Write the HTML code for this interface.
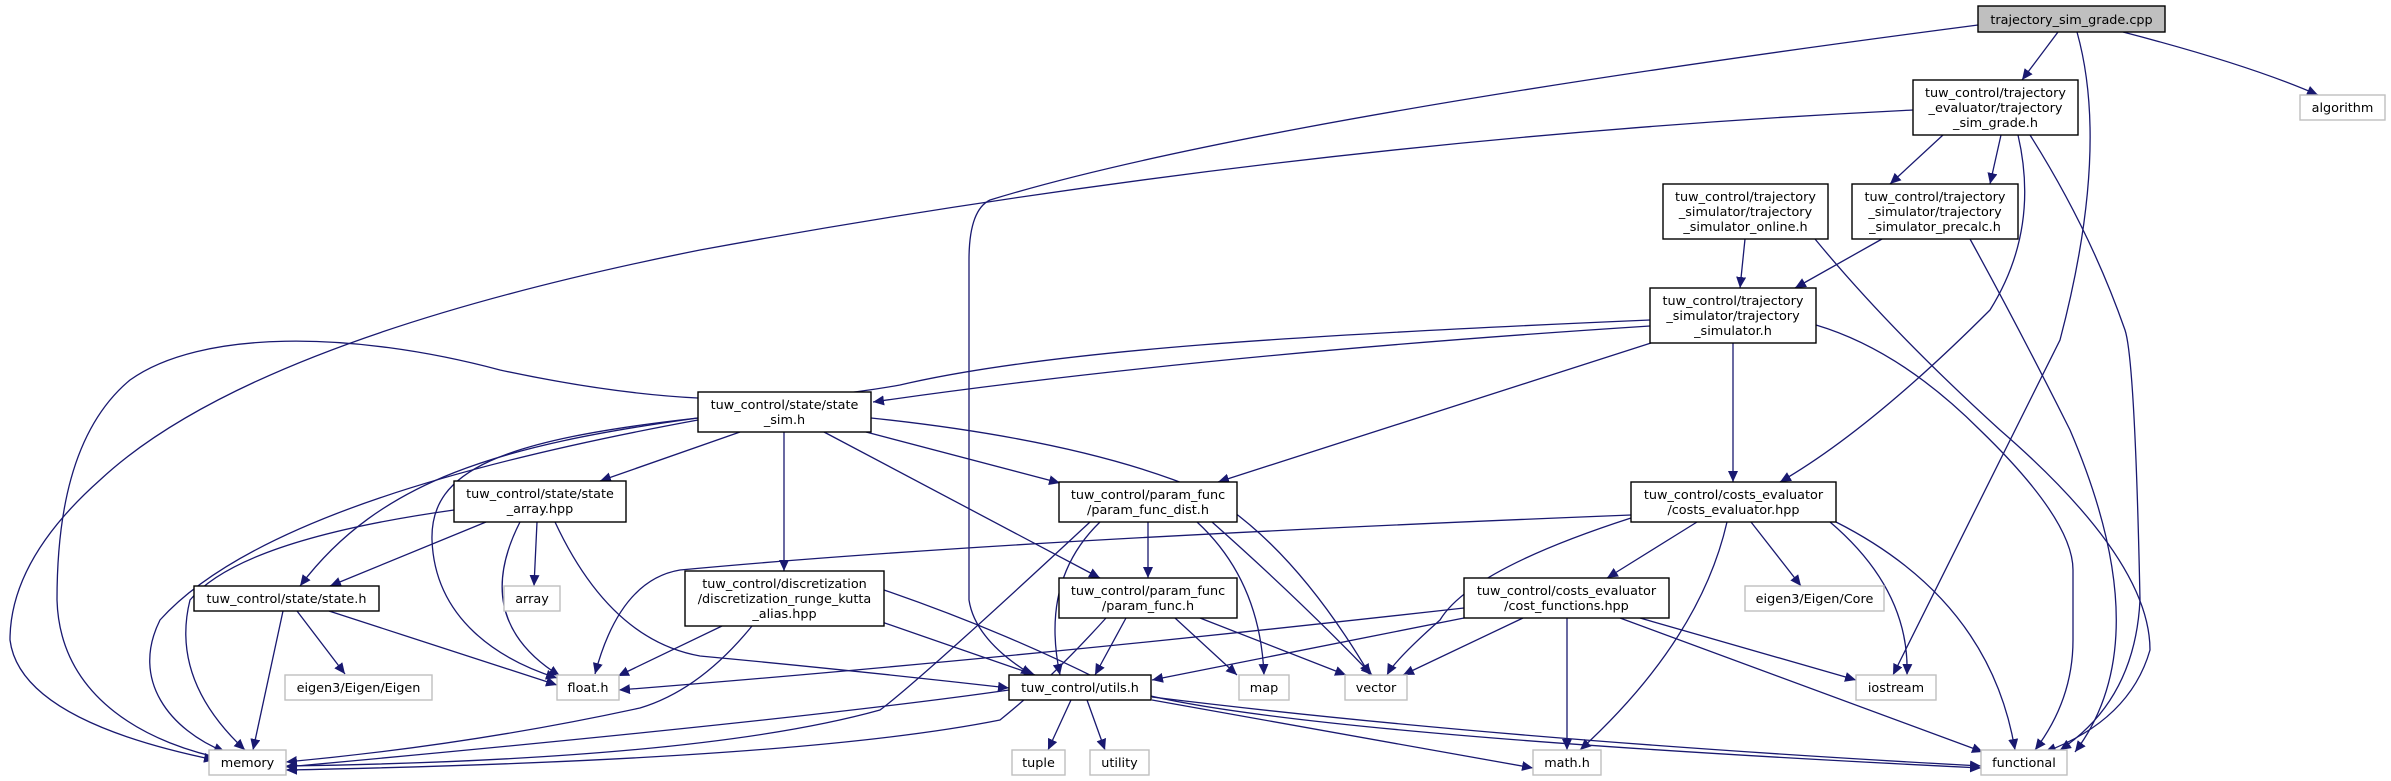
<!DOCTYPE html>
<html><head><meta charset="utf-8"><style>
html,body{margin:0;padding:0;background:#fff;}
svg{display:block;}
text{font-family:"DejaVu Sans","Liberation Sans",sans-serif;font-size:12.8px;fill:#000;text-anchor:middle;}
.e{fill:none;stroke:#191970;stroke-width:1.3;marker-end:url(#a);}
.n{fill:#fff;stroke:#000;stroke-width:1.4;}
.x{fill:#fff;stroke:#bfbfbf;stroke-width:1.4;}
</style></head><body>
<svg width="2391" height="781" viewBox="0 0 2391 781" xmlns="http://www.w3.org/2000/svg">
<defs><marker id="a" markerUnits="userSpaceOnUse" markerWidth="12" markerHeight="10" refX="11" refY="5" orient="auto"><path d="M0,0 L11,5 L0,10 z" fill="#191970"/></marker></defs>

<!-- edges -->
<path class="e" d="M2058,32 L2022,80"/>
<path class="e" d="M2123,32 Q2250,65 2318,95"/>
<path class="e" d="M2077,32 Q2110,150 2060,340 Q1950,560 1893,675"/>
<path class="e" d="M1978,25 Q1250,120 990,200 Q969,210 969,260 L969,600 Q975,640 1032,675"/>
<path class="e" d="M1913,110 Q1300,140 700,250 Q250,340 100,480 Q10,560 10,640 Q20,720 215,760"/>
<path class="e" d="M1943,135 L1890,184"/>
<path class="e" d="M2001,135 L1990,184"/>
<path class="e" d="M2018,135 Q2040,230 1990,310 Q1870,430 1780,482"/>
<path class="e" d="M2030,135 Q2090,230 2125,330 Q2135,360 2140,600 Q2135,700 2060,750"/>
<path class="e" d="M1745,239 L1740,288"/>
<path class="e" d="M1882,239 L1795,288"/>
<path class="e" d="M1815,239 Q1890,330 2000,430 Q2150,560 2150,650 Q2130,720 2045,752"/>
<path class="e" d="M1970,239 Q2020,330 2070,430 Q2160,640 2075,752"/>
<path class="e" d="M1650,320 C1300,335 1050,350 900,385 C760,410 640,400 500,370 C350,330 200,330 130,380 C70,430 57,520 57,600 C60,700 150,745 230,760"/>
<path class="e" d="M1650,326 Q1200,355 873,402"/>
<path class="e" d="M1651,343 L1218,482"/>
<path class="e" d="M1733,343 L1733,482"/>
<path class="e" d="M1816,325 Q1900,350 1980,430 Q2073,520 2073,570 L2073,640 Q2073,700 2035,750"/>
<path class="e" d="M740,432 L600,481"/>
<path class="e" d="M784,432 L784,571"/>
<path class="e" d="M866,432 L1060,483"/>
<path class="e" d="M824,432 L1100,578"/>
<path class="e" d="M871,418 Q1080,440 1200,490 Q1290,540 1370,675"/>
<path class="e" d="M698,418 C500,445 380,480 300,586"/>
<path class="e" d="M698,418 C500,440 430,470 432,540 C435,620 500,660 557,678"/>
<path class="e" d="M698,420 C480,460 250,520 160,620 C130,680 170,730 225,752"/>
<path class="e" d="M486,522 L330,586"/>
<path class="e" d="M537,522 L534,586"/>
<path class="e" d="M520,522 Q470,620 560,676"/>
<path class="e" d="M454,510 Q240,540 190,600 Q170,680 245,750"/>
<path class="e" d="M555,522 Q610,640 700,656 Q850,670 1009,688"/>
<path class="e" d="M297,611 L345,674"/>
<path class="e" d="M329,611 L557,685"/>
<path class="e" d="M283,611 L253,750"/>
<path class="e" d="M722,626 L618,676"/>
<path class="e" d="M752,626 Q700,690 640,708 Q470,745 286,762"/>
<path class="e" d="M876,620 L1035,675"/>
<path class="e" d="M884,590 Q1000,630 1100,680 Q1200,730 1981,768"/>
<path class="e" d="M1148,522 L1148,578"/>
<path class="e" d="M1100,522 Q1040,580 1060,675"/>
<path class="e" d="M1090,522 Q920,680 880,710 Q700,760 286,766"/>
<path class="e" d="M1197,522 Q1260,580 1264,675"/>
<path class="e" d="M1212,522 Q1300,600 1372,675"/>
<path class="e" d="M1126,618 L1095,675"/>
<path class="e" d="M1106,618 Q1050,680 1000,720 Q800,760 286,770"/>
<path class="e" d="M1175,618 L1237,675"/>
<path class="e" d="M1200,618 L1346,675"/>
<path class="e" d="M1631,515 Q1000,540 680,570 Q620,580 595,674"/>
<path class="e" d="M1464,608 Q1000,660 619,690"/>
<path class="e" d="M1464,618 L1152,680"/>
<path class="e" d="M1523,618 L1403,675"/>
<path class="e" d="M1567,618 L1567,750"/>
<path class="e" d="M1640,618 L1856,680"/>
<path class="e" d="M1620,618 L1983,752"/>
<path class="e" d="M1697,522 L1607,578"/>
<path class="e" d="M1631,518 Q1470,570 1440,620 Q1395,660 1387,675"/>
<path class="e" d="M1727,522 Q1700,640 1580,750"/>
<path class="e" d="M1751,522 L1801,586"/>
<path class="e" d="M1830,522 Q1910,590 1907,675"/>
<path class="e" d="M1836,522 Q1990,600 2015,750"/>
<path class="e" d="M1009,690 Q800,720 286,767"/>
<path class="e" d="M1071,700 L1048,750"/>
<path class="e" d="M1087,700 L1105,750"/>
<path class="e" d="M1152,700 L1533,768"/>
<path class="e" d="M1152,697 Q1500,740 1981,766"/>

<!-- nodes -->
<rect x="1978" y="6" width="187" height="26" fill="#bfbfbf" stroke="#000" stroke-width="1.4"/>
<text x="2071.5" y="24">trajectory_sim_grade.cpp</text>

<rect class="x" x="2300" y="95" width="85" height="25"/><text x="2342.5" y="112">algorithm</text>

<rect class="n" x="1913" y="80" width="165" height="55"/>
<text x="1995.5" y="97">tuw_control/trajectory</text><text x="1995.5" y="112">_evaluator/trajectory</text><text x="1995.5" y="127">_sim_grade.h</text>

<rect class="n" x="1663" y="184" width="165" height="55"/>
<text x="1745.5" y="201">tuw_control/trajectory</text><text x="1745.5" y="216">_simulator/trajectory</text><text x="1745.5" y="231">_simulator_online.h</text>

<rect class="n" x="1852" y="184" width="166" height="55"/>
<text x="1935" y="201">tuw_control/trajectory</text><text x="1935" y="216">_simulator/trajectory</text><text x="1935" y="231">_simulator_precalc.h</text>

<rect class="n" x="1650" y="288" width="166" height="55"/>
<text x="1733" y="305">tuw_control/trajectory</text><text x="1733" y="320">_simulator/trajectory</text><text x="1733" y="335">_simulator.h</text>

<rect class="n" x="698" y="392" width="173" height="40"/>
<text x="784.5" y="409">tuw_control/state/state</text><text x="784.5" y="424">_sim.h</text>

<rect class="n" x="454" y="481" width="172" height="41"/>
<text x="540" y="498">tuw_control/state/state</text><text x="540" y="513">_array.hpp</text>

<rect class="n" x="1059" y="482" width="178" height="40"/>
<text x="1148" y="499">tuw_control/param_func</text><text x="1148" y="514">/param_func_dist.h</text>

<rect class="n" x="1631" y="482" width="205" height="40"/>
<text x="1733.5" y="499">tuw_control/costs_evaluator</text><text x="1733.5" y="514">/costs_evaluator.hpp</text>

<rect class="n" x="194" y="586" width="185" height="25"/><text x="286.5" y="603">tuw_control/state/state.h</text>

<rect class="x" x="504" y="586" width="56" height="25"/><text x="532" y="603">array</text>

<rect class="n" x="685" y="571" width="199" height="55"/>
<text x="784.5" y="588">tuw_control/discretization</text><text x="784.5" y="603">/discretization_runge_kutta</text><text x="784.5" y="618">_alias.hpp</text>

<rect class="n" x="1059" y="578" width="178" height="40"/>
<text x="1148" y="595">tuw_control/param_func</text><text x="1148" y="610">/param_func.h</text>

<rect class="n" x="1464" y="578" width="205" height="40"/>
<text x="1566.5" y="595">tuw_control/costs_evaluator</text><text x="1566.5" y="610">/cost_functions.hpp</text>

<rect class="x" x="1745" y="586" width="139" height="25"/><text x="1814.5" y="603">eigen3/Eigen/Core</text>

<rect class="x" x="285" y="675" width="147" height="25"/><text x="358.5" y="692">eigen3/Eigen/Eigen</text>
<rect class="x" x="557" y="675" width="62" height="25"/><text x="588" y="692">float.h</text>
<rect class="n" x="1009" y="675" width="142" height="25"/><text x="1080" y="692">tuw_control/utils.h</text>
<rect class="x" x="1239" y="675" width="50" height="25"/><text x="1264" y="692">map</text>
<rect class="x" x="1345" y="675" width="62" height="25"/><text x="1376" y="692">vector</text>
<rect class="x" x="1856" y="675" width="80" height="25"/><text x="1896" y="692">iostream</text>

<rect class="x" x="209" y="750" width="77" height="25"/><text x="247.5" y="767">memory</text>
<rect class="x" x="1012" y="750" width="53" height="25"/><text x="1038.5" y="767">tuple</text>
<rect class="x" x="1090" y="750" width="59" height="25"/><text x="1119.5" y="767">utility</text>
<rect class="x" x="1533" y="750" width="68" height="25"/><text x="1567" y="767">math.h</text>
<rect class="x" x="1981" y="750" width="86" height="25"/><text x="2024" y="767">functional</text>
</svg>
</body></html>
